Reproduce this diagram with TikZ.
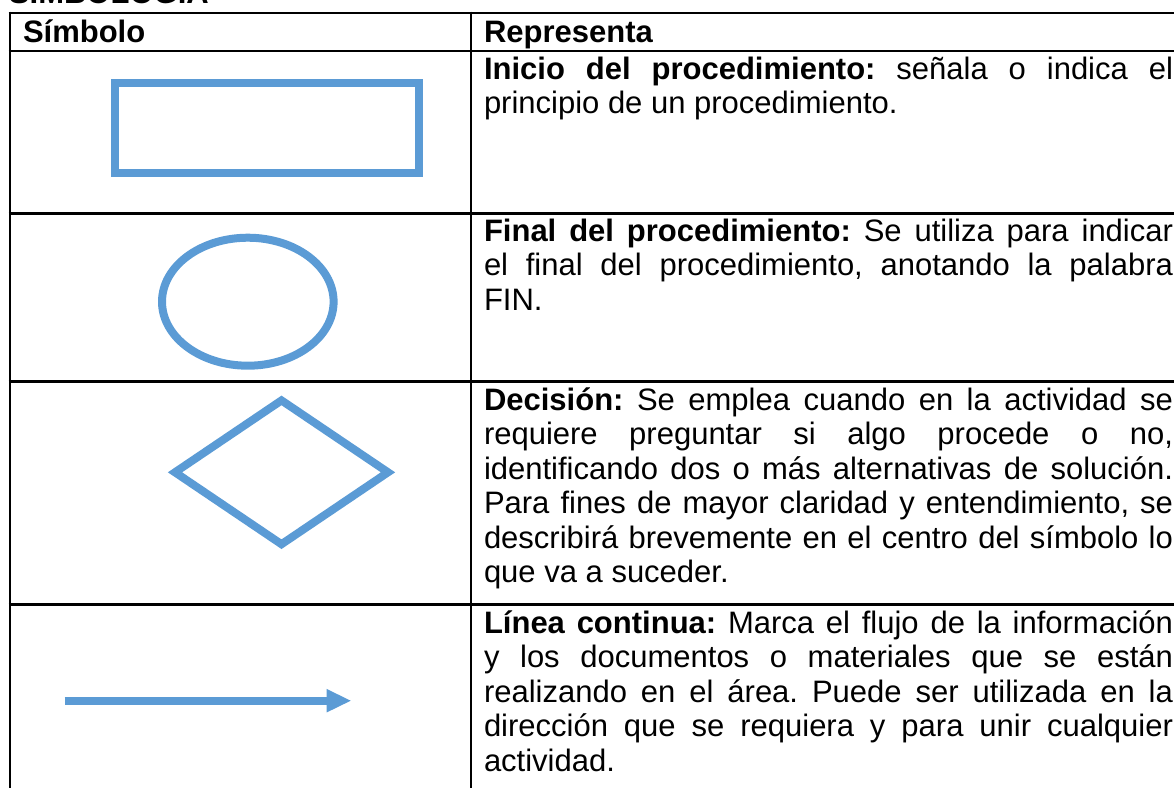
\documentclass[tikz,border=0pt]{standalone}
\usepackage{fontspec}
\setmainfont{Liberation Sans}
\usetikzlibrary{arrows.meta}
\definecolor{symblue}{HTML}{5B9BD5}
\frenchspacing
\newcommand{\jline}[1]{\makebox[\linewidth][s]{#1}\\}
\newcommand{\descfont}{\fontsize{31}{34.4}\selectfont}
\begin{document}
\begin{tikzpicture}[x=1pt,y=-1pt,
  rulel/.style={line width=2.6pt, black},
  symb/.style={line width=8pt, draw=symblue},
  desc/.style={anchor=base west, inner sep=0pt, outer sep=0pt, font=\descfont},
  head/.style={anchor=base west, inner sep=0pt, outer sep=0pt, font=\descfont\bfseries}]
\useasboundingbox (0,0) rectangle (1174,788);
\clip (0,0) rectangle (1174,788);
% title (cut off at top)
\node[head] (title) at (9,3.3) {SIMBOLOGIA};
% table rules
\draw[rulel] (8.7,13) -- (1174,13);
\draw[rulel] (8.7,51) -- (1174,51);
\draw[rulel] (8.7,213.3) -- (1174,213.3);
\draw[rulel] (8.7,381.5) -- (1174,381.5);
\draw[rulel] (8.7,604.5) -- (1174,604.5);
\draw[rulel] (10,11.7) -- (10,788);
\draw[rulel] (471,11.7) -- (471,788);
% header
\node[head] (hsym) at (23,42) {Símbolo};
\node[head] (hrep) at (484,42) {Representa};
% symbols
\draw[symb] (114.7,83.3) rectangle (418.7,173.3);
\draw[symb] (247.8,301.7) ellipse [x radius=85.8, y radius=64];
\draw[symb] (175,472.3) -- (281.5,400.4) -- (388,472.3) -- (281.5,544.2) -- cycle;
\coordinate (a1) at (64.7,700.7);
\coordinate (a2) at (350.7,700.7);
\draw[symb, -{Triangle[length=24pt, width=23.5pt, line width=0pt]}] (a1) -- (a2);
% descriptions
\node[desc] (d1) at (484,79.5) {\parbox[t]{689pt}{\descfont
\jline{\textbf{Inicio del procedimiento:} señala o indica el}
principio de un procedimiento.}};
\node[desc] (d2) at (484,241.5) {\parbox[t]{689pt}{\descfont
\jline{\textbf{Final del procedimiento:} Se utiliza para indicar}
\jline{el final del procedimiento, anotando la palabra}
FIN.}};
\node[desc] (d3) at (484,410.5) {\parbox[t]{689pt}{\descfont
\jline{\textbf{Decisión:} Se emplea cuando en la actividad se}
\jline{requiere preguntar si algo procede o no,}
\jline{identificando dos o más alternativas de solución.}
\jline{Para fines de mayor claridad y entendimiento, se}
\jline{describirá brevemente en el centro del símbolo lo}
que va a suceder.}};
\node[desc] (d4) at (484,633.5) {\parbox[t]{689pt}{\descfont
\jline{\textbf{Línea continua:} Marca el flujo de la información}
\jline{y los documentos o materiales que se están}
\jline{realizando en el área. Puede ser utilizada en la}
\jline{dirección que se requiera y para unir cualquier}
actividad.}};
\end{tikzpicture}
\end{document}
